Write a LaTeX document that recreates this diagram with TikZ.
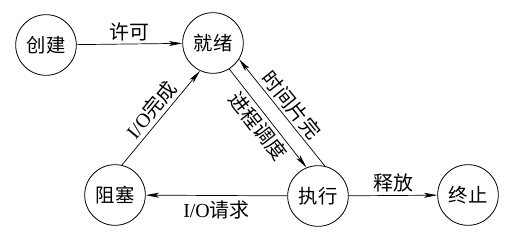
\documentclass[tikz,border=0pt]{standalone}
\usepackage{fontspec}
\setmainfont{Liberation Serif}
\newfontfamily\cjk{Noto Sans CJK SC}
\usetikzlibrary{arrows.meta}

\begin{document}
\begin{tikzpicture}[
    x=0.3mm, y=-0.3mm,
    state/.style={circle, draw, line width=0.7pt, minimum size=18.2mm, inner sep=0pt, font=\fontsize{16.5}{18}\selectfont\cjk},
    lbl/.style={font=\fontsize{17}{19}\selectfont\cjk, inner sep=2.5pt},
    arrow/.style={-{Stealth[length=4mm, width=1.5mm, inset=1mm]}, line width=0.6pt},
    rarrow/.style={{Stealth[length=4mm, width=1.5mm, inset=1mm]}-, line width=0.6pt}
]
    \useasboundingbox (0,0) rectangle (513,242);

    % states
    \node[state] (new) at (46,45) {创建};
    \node[state] (ready) at (213,43) {就绪};
    \node[state] (blocked) at (115,195) {阻塞};
    \node[state] (run) at (318,196) {执行};
    \node[state] (done) at (468,195) {终止};

    % transitions
    \draw[arrow] (new) -- (ready) node[lbl, midway, above] {许可};
    \draw[arrow] (blocked.77) -- (ready.-115) node[lbl, midway, sloped, above] {{\rmfamily I/O}完成};
    \draw[arrow] (ready.-58) -- (run.112) node[lbl, midway, sloped, below] {进程调度};
    \draw[rarrow] (ready.-32) -- (run.77) node[lbl, midway, sloped, above] {时间片完};
    \draw[arrow] (run) -- (blocked) node[lbl, midway, below, yshift=-2pt] {{\rmfamily I/O}请求};
    \draw[arrow] (run) -- (done) node[lbl, midway, above] {释放};
\end{tikzpicture}
\end{document}
